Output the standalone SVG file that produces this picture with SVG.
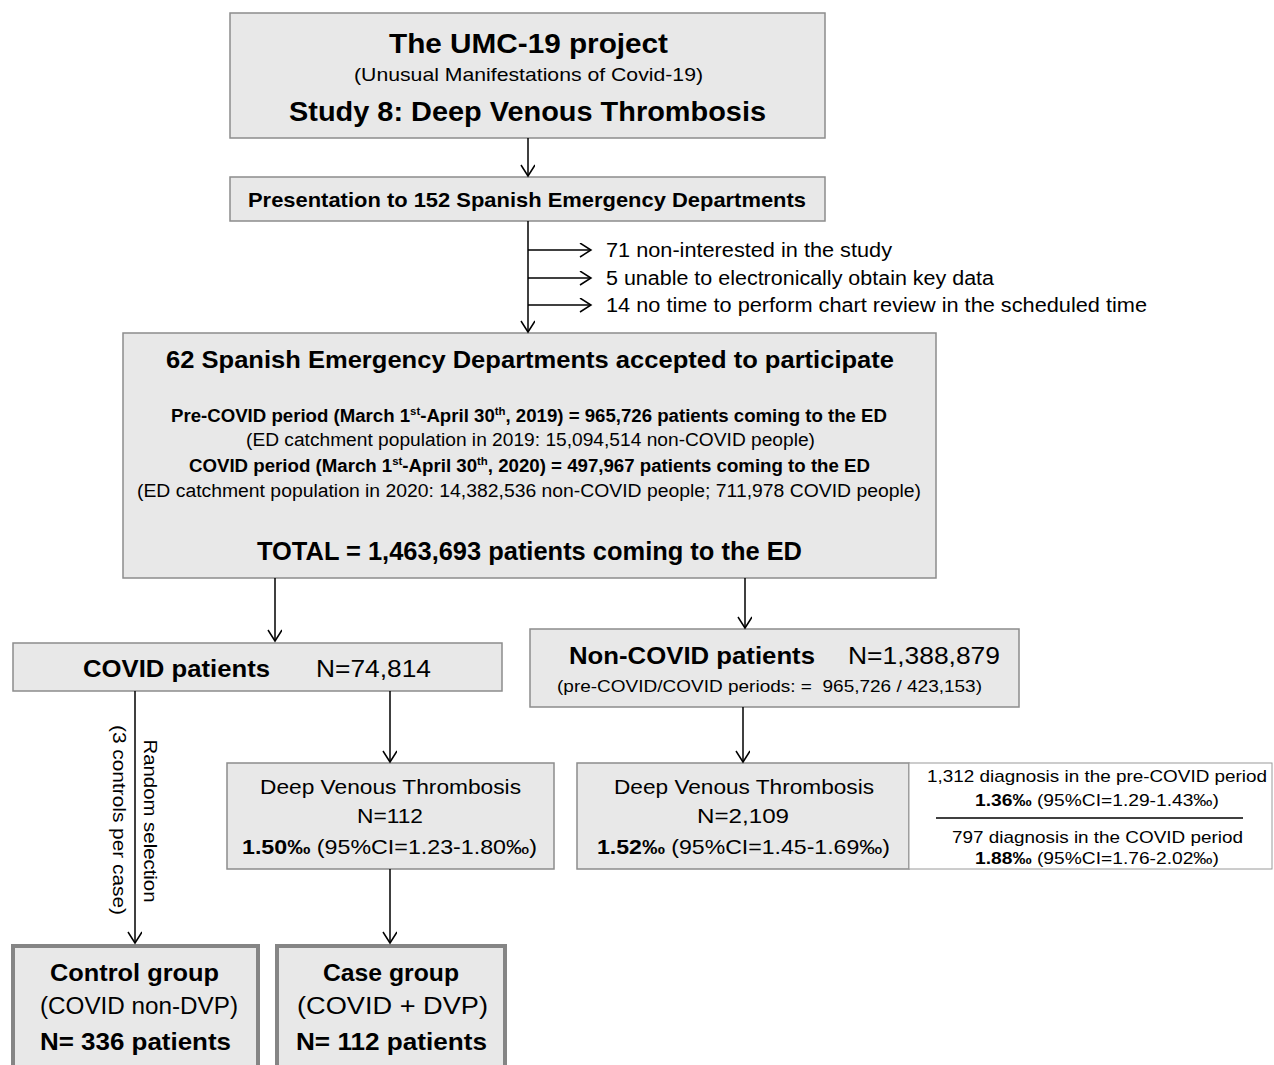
<svg xmlns="http://www.w3.org/2000/svg" width="1274" height="1065" viewBox="0 0 1274 1065">
<defs>
<style>
text{font-family:"Liberation Sans",Arial,sans-serif;fill:#000}
.box{fill:#e8e8e8;stroke:#8c8c8c;stroke-width:1.5}
.thick{fill:#e8e8e8;stroke:#858585;stroke-width:4}
.side{fill:#fff;stroke:#9a9a9a;stroke-width:1}
.b{font-weight:bold}
.m{text-anchor:middle}
.con line{stroke:#000;stroke-width:1.5;marker-end:url(#ah)}
</style>
<marker id="ah" markerUnits="userSpaceOnUse" markerWidth="14" markerHeight="16" refX="12" refY="7" orient="auto">
<path d="M1,0 L12,7 L1,14" fill="none" stroke="#000" stroke-width="1.5"/>
</marker>
</defs>
<rect width="1274" height="1065" fill="#fff"/>

<g id="n-top">
<rect class="box" x="230" y="13" width="595" height="125"/>
<text class="b m" x="528.5" y="53" font-size="28" textLength="279" lengthAdjust="spacingAndGlyphs">The UMC-19 project</text>
<text class="m" x="528.5" y="81" font-size="19" textLength="349" lengthAdjust="spacingAndGlyphs">(Unusual Manifestations of Covid-19)</text>
<text class="b m" x="527.5" y="121" font-size="28" textLength="477" lengthAdjust="spacingAndGlyphs">Study 8: Deep Venous Thrombosis</text>
</g>

<g id="n-presentation">
<rect class="box" x="230" y="177" width="595" height="44"/>
<text class="b m" x="527" y="207" font-size="21" textLength="558" lengthAdjust="spacingAndGlyphs">Presentation to 152 Spanish Emergency Departments</text>
</g>

<g id="n-excluded">
<text x="606" y="257" font-size="20" textLength="286" lengthAdjust="spacingAndGlyphs">71 non-interested in the study</text>
<text x="606" y="285" font-size="20" textLength="388" lengthAdjust="spacingAndGlyphs">5 unable to electronically obtain key data</text>
<text x="606" y="312" font-size="20" textLength="541" lengthAdjust="spacingAndGlyphs">14 no time to perform chart review in the scheduled time</text>
</g>

<g id="n-accepted">
<rect class="box" x="123" y="333" width="813" height="245"/>
<text class="b m" x="530" y="368" font-size="24" textLength="728" lengthAdjust="spacingAndGlyphs">62 Spanish Emergency Departments accepted to participate</text>
<text class="b m" x="529" y="422" font-size="18" textLength="716" lengthAdjust="spacingAndGlyphs">Pre-COVID period (March 1<tspan font-size="11" dy="-7">st</tspan><tspan dy="7">-April 30</tspan><tspan font-size="11" dy="-7">th</tspan><tspan dy="7">, 2019) = 965,726 patients coming to the ED</tspan></text>
<text class="m" x="530.5" y="446" font-size="18" textLength="569" lengthAdjust="spacingAndGlyphs">(ED catchment population in 2019: 15,094,514 non-COVID people)</text>
<text class="b m" x="529.5" y="472" font-size="18" textLength="681" lengthAdjust="spacingAndGlyphs">COVID period (March 1<tspan font-size="11" dy="-7">st</tspan><tspan dy="7">-April 30</tspan><tspan font-size="11" dy="-7">th</tspan><tspan dy="7">, 2020) = 497,967 patients coming to the ED</tspan></text>
<text class="m" x="529" y="497" font-size="18" textLength="784" lengthAdjust="spacingAndGlyphs">(ED catchment population in 2020: 14,382,536 non-COVID people; 711,978 COVID people)</text>
<text class="b m" x="529.5" y="560" font-size="26" textLength="545" lengthAdjust="spacingAndGlyphs">TOTAL = 1,463,693 patients coming to the ED</text>
</g>

<g id="n-covid">
<rect class="box" x="13" y="643" width="489" height="48"/>
<text class="b" x="83" y="677" font-size="24" textLength="187" lengthAdjust="spacingAndGlyphs">COVID patients</text>
<text x="316" y="677" font-size="24" textLength="115" lengthAdjust="spacingAndGlyphs">N=74,814</text>
</g>

<g id="n-noncovid">
<rect class="box" x="530" y="629" width="489" height="78"/>
<text class="b" x="569" y="664" font-size="24" textLength="246" lengthAdjust="spacingAndGlyphs">Non-COVID patients</text>
<text x="848" y="664" font-size="24" textLength="152" lengthAdjust="spacingAndGlyphs">N=1,388,879</text>
<text class="m" x="769.5" y="692" font-size="17" textLength="425" lengthAdjust="spacingAndGlyphs" xml:space="preserve">(pre-COVID/COVID periods: =  965,726 / 423,153)</text>
</g>

<g id="n-dvt-covid">
<rect class="box" x="227" y="763" width="327" height="106"/>
<text class="m" x="390.5" y="794" font-size="21" textLength="261" lengthAdjust="spacingAndGlyphs">Deep Venous Thrombosis</text>
<text class="m" x="390" y="823" font-size="21" textLength="66" lengthAdjust="spacingAndGlyphs">N=112</text>
<text class="m" x="389.5" y="854" font-size="21" textLength="295" lengthAdjust="spacingAndGlyphs"><tspan class="b">1.50‰</tspan> (95%CI=1.23-1.80‰)</text>
</g>

<g id="n-dvt-noncovid">
<rect class="box" x="577" y="763" width="332" height="106"/>
<text class="m" x="744" y="794" font-size="21" textLength="260" lengthAdjust="spacingAndGlyphs">Deep Venous Thrombosis</text>
<text class="m" x="743" y="823" font-size="21" textLength="92" lengthAdjust="spacingAndGlyphs">N=2,109</text>
<text class="m" x="743.5" y="854" font-size="21" textLength="293" lengthAdjust="spacingAndGlyphs"><tspan class="b">1.52‰</tspan> (95%CI=1.45-1.69‰)</text>
</g>

<g id="n-dvt-periods">
<rect class="side" x="909" y="763" width="363" height="106"/>
<text class="m" x="1097" y="782" font-size="17" textLength="340" lengthAdjust="spacingAndGlyphs">1,312 diagnosis in the pre-COVID period</text>
<text class="m" x="1097" y="806" font-size="17" textLength="244" lengthAdjust="spacingAndGlyphs"><tspan class="b">1.36‰</tspan> (95%CI=1.29-1.43‰)</text>
<line x1="936" y1="818" x2="1243" y2="818" stroke="#000" stroke-width="1.5"/>
<text class="m" x="1097.5" y="843" font-size="17" textLength="291" lengthAdjust="spacingAndGlyphs">797 diagnosis in the COVID period</text>
<text class="m" x="1097" y="864" font-size="17" textLength="244" lengthAdjust="spacingAndGlyphs"><tspan class="b">1.88‰</tspan> (95%CI=1.76-2.02‰)</text>
</g>

<g id="n-control">
<rect class="thick" x="13" y="946" width="245" height="125"/>
<text class="b m" x="134.5" y="981" font-size="24" textLength="169" lengthAdjust="spacingAndGlyphs">Control group</text>
<text class="m" x="139" y="1014" font-size="23" textLength="198" lengthAdjust="spacingAndGlyphs">(COVID non-DVP)</text>
<text class="b m" x="135.5" y="1050" font-size="24" textLength="191" lengthAdjust="spacingAndGlyphs">N= 336 patients</text>
</g>

<g id="n-case">
<rect class="thick" x="277" y="946" width="228" height="125"/>
<text class="b m" x="391" y="981" font-size="24" textLength="136" lengthAdjust="spacingAndGlyphs">Case group</text>
<text class="m" x="392.5" y="1014" font-size="23" textLength="191" lengthAdjust="spacingAndGlyphs">(COVID + DVP)</text>
<text class="b m" x="391.5" y="1050" font-size="24" textLength="191" lengthAdjust="spacingAndGlyphs">N= 112 patients</text>
</g>

<g id="connectors" class="con">
<line x1="528" y1="138" x2="528" y2="176"/>
<line x1="528" y1="221" x2="528" y2="332"/>
<line x1="528" y1="250" x2="591" y2="250"/>
<line x1="528" y1="278" x2="591" y2="278"/>
<line x1="528" y1="305" x2="591" y2="305"/>
<line x1="275" y1="578" x2="275" y2="641"/>
<line x1="745" y1="578" x2="745" y2="628"/>
<line x1="135" y1="691" x2="135" y2="943"/>
<line x1="390" y1="691" x2="390" y2="762"/>
<line x1="390" y1="869" x2="390" y2="943"/>
<line x1="743" y1="707" x2="743" y2="762"/>
</g>

<g id="connector-label">
<text class="m" transform="translate(144,821) rotate(90)" font-size="19" textLength="163" lengthAdjust="spacingAndGlyphs">Random selection</text>
<text class="m" transform="translate(113,820) rotate(90)" font-size="19" textLength="190" lengthAdjust="spacingAndGlyphs">(3 controls per case)</text>
</g>
</svg>
